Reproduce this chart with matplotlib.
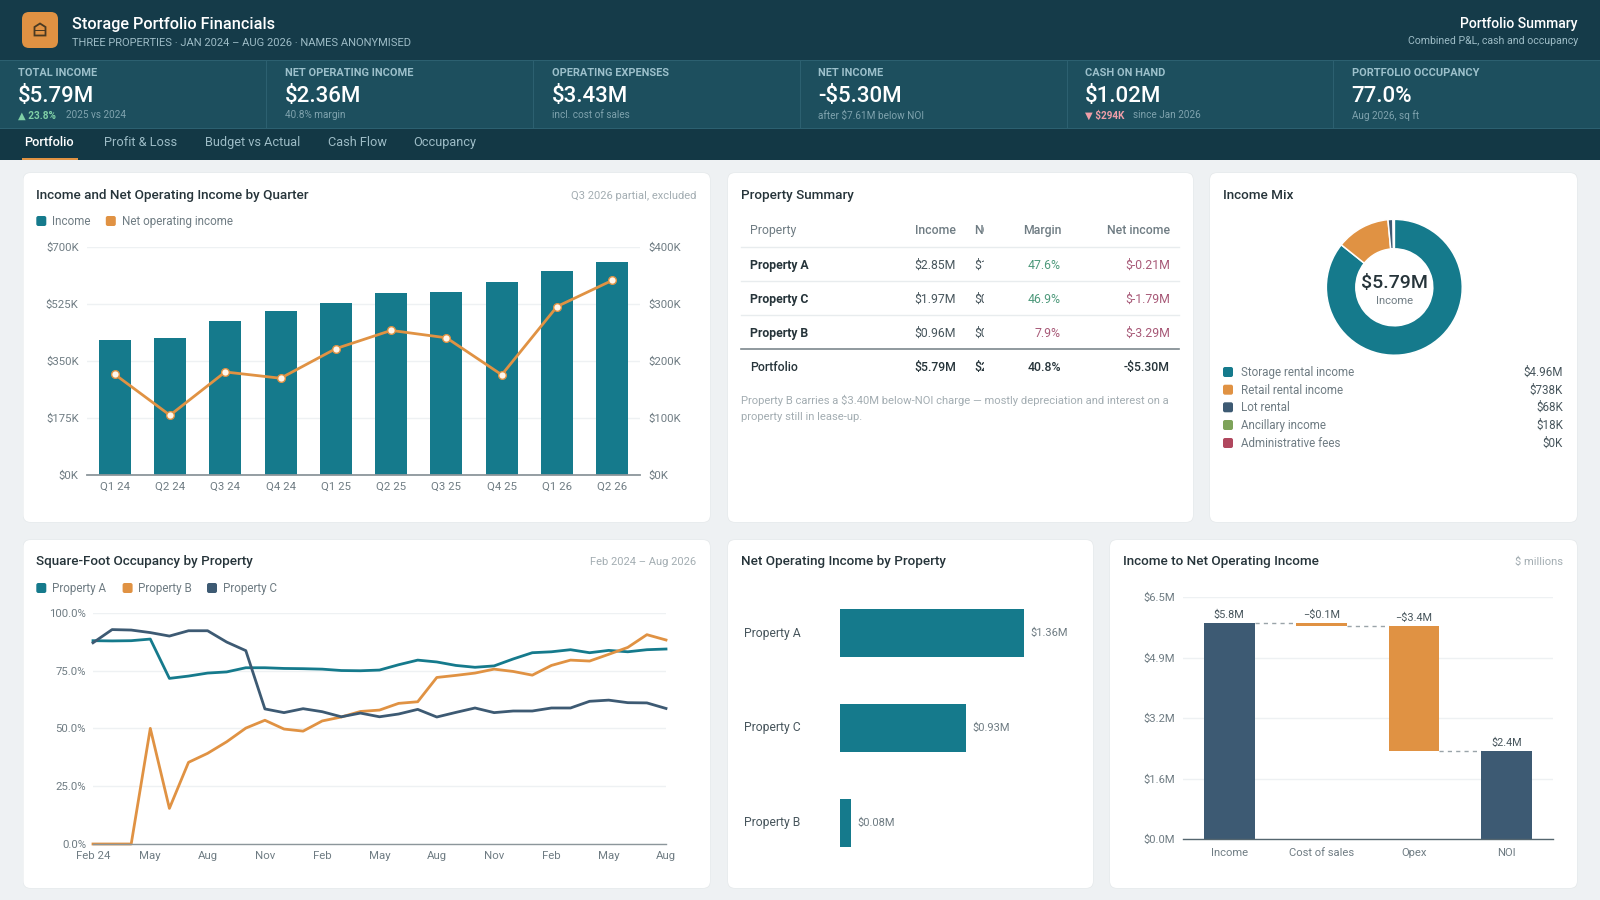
import matplotlib
matplotlib.use("Agg")
import matplotlib.pyplot as plt
from matplotlib.patches import FancyBboxPatch, Rectangle, Polygon
from matplotlib.ticker import FuncFormatter

plt.rcParams['font.family'] = ['Roboto', 'DejaVu Sans']

# ---------- data ----------
kpi_labels = ["TOTAL INCOME", "NET OPERATING INCOME", "OPERATING EXPENSES", "NET INCOME", "CASH ON HAND", "PORTFOLIO OCCUPANCY"]
kpi_values = ["$5.79M", "$2.36M", "$3.43M", "-$5.30M", "$1.02M", "77.0%"]
kpi_delta = ["▲ 23.8%", "", "", "", "▼ $294K", ""]
kpi_subs = ["2025 vs 2024", "40.8% margin", "incl. cost of sales", "after $7.61M below NOI", "since Jan 2026", "Aug 2026, sq ft"]
nav_items = ["Portfolio", "Profit & Loss", "Budget vs Actual", "Cash Flow", "Occupancy"]

quarters = ["Q1 24", "Q2 24", "Q3 24", "Q4 24", "Q1 25", "Q2 25", "Q3 25", "Q4 25", "Q1 26", "Q2 26"]
income_q = [416, 420, 472, 505, 530, 558, 563, 592, 626, 654]
noi_q = [177, 105, 181, 170, 222, 254, 241, 176, 296, 342]

tbl_header = ["Property", "Income", "NOI", "Margin", "Net income"]
tbl_names = ["Property A", "Property C", "Property B", "Portfolio"]
tbl_income = ["$2.85M", "$1.97M", "$0.96M", "$5.79M"]
tbl_noi = ["$1.36M", "$0.93M", "$0.08M", "$2.36M"]
tbl_margin = ["47.6%", "46.9%", "7.9%", "40.8%"]
tbl_net = ["$-0.21M", "$-1.79M", "$-3.29M", "-$5.30M"]

mix_labels = ["Storage rental income", "Retail rental income", "Lot rental", "Ancillary income", "Administrative fees"]
mix_values = [4960, 738, 68, 18, 0]
mix_text = ["$4.96M", "$738K", "$68K", "$18K", "$0K"]

months = ["Feb 24", "May", "Aug", "Nov", "Feb", "May", "Aug", "Nov", "Feb", "May", "Aug"]
occ_a = [87.9, 87.8, 87.9, 88.6, 71.6, 72.6, 73.9, 74.4, 76.2, 76.2, 75.9, 75.8, 75.6, 75.0, 74.9, 75.2,
         77.5, 79.5, 78.7, 77.2, 76.4, 77.0, 80.0, 82.7, 83.1, 84.0, 82.7, 83.7, 83.1, 84.0, 84.3]
occ_b = [0, 0, 0, 50.0, 15.4, 35.3, 39.2, 44.2, 50.1, 53.5, 49.7, 48.8, 53.2, 54.9, 57.3, 57.9,
         60.8, 61.5, 72.0, 72.9, 73.9, 75.6, 74.6, 73.0, 77.2, 79.5, 79.1, 82.0, 85.0, 90.5, 88.2]
occ_c = [87.0, 92.7, 92.5, 91.4, 89.9, 92.2, 92.2, 87.3, 83.6, 58.4, 56.8, 58.5, 57.2, 55.0, 56.6, 55.0,
         56.2, 58.2, 54.9, 56.9, 58.8, 56.8, 57.5, 57.5, 58.8, 58.8, 61.7, 62.2, 61.1, 61.0, 58.6]

prop_names = ["Property A", "Property C", "Property B"]
prop_noi = [1.36, 0.93, 0.08]

wf_labels = ["Income", "Cost of sales", "Opex", "NOI"]
wf_bottom = [0, 5.73, 2.37, 0]
wf_height = [5.80, 0.07, 3.36, 2.37]
wf_text = ["$5.8M", "−$0.1M", "−$3.4M", "$2.4M"]

# ---------- styles ----------
HEADER = "#153b49"; BAND = "#1d4f5e"; NAVBG = "#133845"; PAGE = "#eef1f3"
TEAL = "#157a8c"; ORANGE = "#e09243"; NAVY = "#3d5a73"; GREEN = "#7ea35a"; CRIM = "#b0475e"
INK = "#26343a"; MUTED = "#6f7c83"; FAINT = "#a3adb2"; GRID = "#eef1f3"; AXIS = "#8c969b"
W, H = 1600, 900

fig = plt.figure(figsize=(16, 9), dpi=100, facecolor=PAGE)
ov = fig.add_axes([0, 0, 1, 1], zorder=0)
ov.set_xlim(0, W); ov.set_ylim(H, 0); ov.axis("off")
top = fig.add_axes([0, 0, 1, 1], zorder=5)
top.set_xlim(0, W); top.set_ylim(H, 0); top.axis("off"); top.patch.set_alpha(0)

def T(x, y, s, size=8.5, color=INK, ha="left", weight="normal", **kw):
    return top.text(x, y + 1, s, fontsize=size, color=color, ha=ha, va="center", weight=weight, **kw)

def box(x0, y0, x1, y1, color, ax=ov, z=1):
    ax.add_patch(Rectangle((x0, y0), x1 - x0, y1 - y0, fc=color, ec="none", zorder=z))

def card(x0, y0, x1, y1):
    ov.add_patch(FancyBboxPatch((x0 - .5, y0 - .5), x1 - x0 + 1, y1 - y0 + 1, boxstyle="round,pad=0,rounding_size=7",
                                fc="#e4e8ea", ec="none", zorder=1))
    ov.add_patch(FancyBboxPatch((x0, y0), x1 - x0, y1 - y0, boxstyle="round,pad=0,rounding_size=7",
                                fc="white", ec="none", zorder=2))

def plot_axes(x0, y0, x1, y1):
    ax = fig.add_axes([x0 / W, 1 - y1 / H, (x1 - x0) / W, (y1 - y0) / H], zorder=3)
    ax.patch.set_alpha(0)
    for s in ("top", "left", "right"):
        ax.spines[s].set_visible(False)
    ax.tick_params(length=0, labelsize=8.2, labelcolor=MUTED)
    return ax

# ---------- header ----------
box(0, 0, W, 60, HEADER)
box(0, 60, W, 128, BAND)
box(0, 60, W, 61, "#2c6070", z=2)
box(0, 127.5, W, 128.5, "#2c6070", z=2)
box(0, 128, W, 160, NAVBG)
ov.add_patch(FancyBboxPatch((22, 12), 36, 36, boxstyle="round,pad=0,rounding_size=7", fc=ORANGE, ec="none", zorder=3))
ov.add_patch(Polygon([(34.5, 31), (34.5, 27), (40, 23.5), (45.5, 27), (45.5, 35.5), (34.5, 35.5)], closed=True,
                     fc="none", ec="#4a3a22", lw=1.3, zorder=4))
box(34.5, 30, 45.5, 31.2, "#4a3a22", z=4)
T(72.5, 23, "Storage Portfolio Financials", 11.7, "white", weight="medium")
T(72.5, 41.5, "THREE PROPERTIES · JAN 2024 – AUG 2026 · NAMES ANONYMISED", 8.05, "#9dbcc6")
T(1578, 23, "Portfolio Summary", 10.1, "white", ha="right", weight="medium")
T(1578, 40, "Combined P&L, cash and occupancy", 7.6, "#9dbcc6", ha="right")

kpi_x = [18, 284.7, 551.5, 818.4, 1085, 1351.5]
for sep in [266, 532.7, 800, 1067, 1333]:
    box(sep, 61, sep + 1, 128, "#2c6070", z=2)
for i, x in enumerate(kpi_x):
    T(x, 72.5, kpi_labels[i], 7.9, "#9cc0cb", weight="bold")
    T(x, 95, kpi_values[i], 16, "white", weight="medium")
    if kpi_delta[i]:
        col = "#7fd0a6" if i == 0 else "#ef9ea8"
        T(x, 114.5, kpi_delta[i], 7.2, col, weight="bold")
        T(x + 48, 114.5, kpi_subs[i], 7.2, "#7fa3ae")
    else:
        T(x, 114.5, kpi_subs[i], 7.2, "#7fa3ae")

nav_x = [24.5, 104, 205, 328, 413]
for i, (x, s) in enumerate(zip(nav_x, nav_items)):
    T(x, 141.5, s, 9.2, "white" if i == 0 else "#9dbcc6", weight="medium" if i == 0 else "normal")
box(22, 158, 77.5, 160, ORANGE, z=2)

# ---------- cards ----------
card(23.5, 173, 710, 522)
card(728, 173, 1193, 522)
card(1210, 173, 1577, 522)
card(23.5, 540, 710, 888)
card(728, 540, 1093, 888)
card(1110, 540, 1577, 888)

TITLE = 9.7
def legend(items, y):
    for mx, tx, col, s in items:
        ov.add_patch(FancyBboxPatch((mx, y - 5), 10, 10, boxstyle="round,pad=0,rounding_size=2", fc=col, ec="none", zorder=3))
        T(tx, y - .3, s, 8.4, MUTED)

# ---------- income & NOI by quarter ----------
T(36.5, 194.5, "Income and Net Operating Income by Quarter", TITLE, INK, weight="medium")
T(696.5, 195, "Q3 2026 partial, excluded", 8, FAINT, ha="right")
legend([(36.3, 52, TEAL, "Income"), (105.8, 121.7, ORANGE, "Net operating income")], 221)

ax = plot_axes(87, 247.3, 640, 475)
ax.set_xlim(-.5, 9.5); ax.set_ylim(0, 700)
ax.set_yticks([0, 175, 350, 525, 700])
ax.yaxis.set_major_formatter(FuncFormatter(lambda v, p: f"${v:.0f}K"))
ax.grid(axis="y", color=GRID, lw=1); ax.set_axisbelow(True)
ax.spines["bottom"].set_color(AXIS); ax.spines["bottom"].set_linewidth(1.3)
ax.bar(range(10), income_q, width=.58, color=TEAL, zorder=2)
ax.set_xticks(range(10)); ax.set_xticklabels(quarters)
ax.tick_params(axis="x", pad=5); ax.tick_params(axis="y", pad=6)
ax2 = ax.twinx()
ax2.patch.set_alpha(0)
for s in ("top", "left", "right", "bottom"):
    ax2.spines[s].set_visible(False)
ax2.set_ylim(0, 400); ax2.set_yticks([0, 100, 200, 300, 400])
ax2.yaxis.set_major_formatter(FuncFormatter(lambda v, p: f"${v:.0f}K"))
ax2.tick_params(length=0, labelsize=8.2, labelcolor=MUTED, pad=6)
ax2.plot(range(10), noi_q, color=ORANGE, lw=2, marker="o", ms=5.5, mfc="#fff7ec", mec=ORANGE, mew=1, zorder=4)

# ---------- property summary ----------
T(741, 194.5, "Property Summary", TITLE, INK, weight="medium")
col_right = [956, 1061, 1170]
noi_clip = Rectangle((974, 200), 9.5, 200, transform=top.transData)
def clipped(y, s, color, weight="normal"):
    t = T(974, y, s, 8.8, color, weight=weight)
    t.set_clip_path(noi_clip)
    t.set_clip_on(True)
T(750, 229.5, tbl_header[0], 8.8, MUTED)
T(col_right[0], 229.5, tbl_header[1], 8.8, MUTED, ha="right", weight="medium")
clipped(229.5, tbl_header[2], MUTED, "medium")
T(col_right[1], 229.5, tbl_header[3], 8.8, MUTED, ha="right", weight="medium")
T(col_right[2], 229.5, tbl_header[4], 8.8, MUTED, ha="right", weight="medium")
row_y = [264.3, 298.3, 332.7, 366.3]
MARGIN_GOOD = "#4f9a7c"; BAD = "#a85a78"
for i, y in enumerate(row_y):
    last = i == 3
    w = "medium" if last else "normal"
    T(750, y, tbl_names[i], 8.8, INK, weight="medium" if last else "bold")
    T(col_right[0], y, tbl_income[i], 8.8, INK if last else "#47555c", ha="right", weight=w)
    clipped(y, tbl_noi[i], INK if last else "#47555c", w)
    mc = INK if last else (BAD if i == 2 else MARGIN_GOOD)
    T(col_right[1], y, tbl_margin[i], 8.8, mc, ha="right", weight=w)
    T(col_right[2], y, tbl_net[i], 8.8, INK if last else BAD, ha="right", weight=w)
for y, c, lw in [(246.7, "#e8ecee", 1), (281.3, "#e8ecee", 1), (314.7, "#e8ecee", 1), (349.3, "#7d888d", 1.2)]:
    top.plot([741, 1179], [y, y], color=c, lw=lw, zorder=1)
T(741, 399.7, "Property B carries a $3.40M below-NOI charge — mostly depreciation and interest on a", 8.1, FAINT)
T(741, 416, "property still in lease-up.", 8.1, FAINT)

# ---------- income mix ----------
T(1223, 194.5, "Income Mix", TITLE, INK, weight="medium")
mix_cols = [TEAL, ORANGE, NAVY, GREEN, CRIM]
pie_ax = fig.add_axes([(1394.3 - 70) / W, 1 - (287.3 + 70) / H, 140 / W, 140 / H], zorder=3)
pie_ax.pie(mix_values, colors=mix_cols, startangle=90, counterclock=False, radius=1,
           wedgeprops=dict(width=.434, edgecolor="white", linewidth=1.1))
pie_ax.set_xlim(-1.03, 1.03); pie_ax.set_ylim(-1.03, 1.03); pie_ax.patch.set_alpha(0)
T(1394.3, 282, "$5.79M", 14, INK, ha="center", weight="medium")
T(1394.3, 299.7, "Income", 8.1, MUTED, ha="center")
for i, y in enumerate([372, 389.7, 407.3, 425, 443]):
    ov.add_patch(FancyBboxPatch((1223, y - 5), 10, 10, boxstyle="round,pad=0,rounding_size=2", fc=mix_cols[i], ec="none", zorder=3))
    T(1241, y - .5, mix_labels[i], 8.4, MUTED)
    T(1563, y - .5, mix_text[i], 8.4, "#47555c", ha="right")

# ---------- occupancy ----------
T(36.5, 560.5, "Square-Foot Occupancy by Property", TITLE, INK, weight="medium")
T(696.5, 561, "Feb 2024 – Aug 2026", 8, FAINT, ha="right")
legend([(36.3, 52, TEAL, "Property A"), (122.6, 138, ORANGE, "Property B"), (207, 223.3, NAVY, "Property C")], 588)
ax = plot_axes(93, 612.7, 666, 844)
ax.set_xlim(0, 30); ax.set_ylim(0, 100)
ax.set_yticks([0, 25, 50, 75, 100])
ax.yaxis.set_major_formatter(FuncFormatter(lambda v, p: f"{v:.1f}%"))
ax.set_xticks(range(0, 31, 3)); ax.set_xticklabels(months)
ax.grid(axis="y", color=GRID, lw=1); ax.set_axisbelow(True)
ax.spines["bottom"].set_color(AXIS); ax.spines["bottom"].set_linewidth(1)
ax.tick_params(axis="x", pad=5); ax.tick_params(axis="y", pad=5)
for s, c in [(occ_a, TEAL), (occ_b, ORANGE), (occ_c, NAVY)]:
    ax.plot(range(31), s, color=c, lw=2, clip_on=False, solid_joinstyle="round")

# ---------- NOI by property ----------
T(741, 560.5, "Net Operating Income by Property", TITLE, INK, weight="medium")
ax = plot_axes(840, 585.9, 1080, 870)
ax.spines["bottom"].set_visible(False)
ax.set_xlim(0, 240 / 135.6); ax.set_ylim(2.5, -.5)
ax.set_xticks([]); ax.set_yticks([])
ax.barh(range(3), prop_noi, height=.51, color=TEAL)
for i, (n, v) in enumerate(zip(prop_names, prop_noi)):
    ax.annotate(f"${v:.2f}M", (v, i), xytext=(4.5, 0), textcoords="offset points", va="center", fontsize=8, color=MUTED)
    ax.annotate(n, (0, i), xytext=(-69, 0), textcoords="offset points", va="center", fontsize=8.7, color="#47555c", annotation_clip=False)

# ---------- waterfall ----------
T(1123.3, 560.5, "Income to Net Operating Income", TITLE, INK, weight="medium")
T(1563, 561, "$ millions", 8, FAINT, ha="right")
ax = plot_axes(1183, 597.3, 1552.7, 839.3)
ax.set_xlim(-.5, 3.5); ax.set_ylim(0, 6.5)
ax.set_yticks([0, 1.625, 3.25, 4.875, 6.5])
ax.set_yticklabels(["$0.0M", "$1.6M", "$3.2M", "$4.9M", "$6.5M"])
ax.grid(axis="y", color=GRID, lw=1); ax.set_axisbelow(True)
ax.spines["bottom"].set_color("#55666f"); ax.spines["bottom"].set_linewidth(1)
ax.set_xticks(range(4)); ax.set_xticklabels(wf_labels)
ax.tick_params(axis="x", pad=6, labelsize=8.1); ax.tick_params(axis="y", pad=6, labelsize=8.1)
wf_cols = [NAVY, ORANGE, ORANGE, NAVY]
ax.bar(range(4), wf_height, bottom=wf_bottom, width=.55, color=wf_cols, zorder=2)
for i in range(3):
    lvl = wf_bottom[i] + (wf_height[i] if i == 0 else 0)
    ax.plot([i + .275, i + 1 - .275], [lvl, lvl], color="#9aa4a9", lw=1, ls=(0, (3, 3)), zorder=1)
for i, s in enumerate(wf_text):
    ax.annotate(s, (i, wf_bottom[i] + wf_height[i]), xytext=(0, 6), textcoords="offset points",
                ha="center", va="center", fontsize=7.8, color="#47555c")

fig.savefig("out.png", dpi=100, facecolor=PAGE)
